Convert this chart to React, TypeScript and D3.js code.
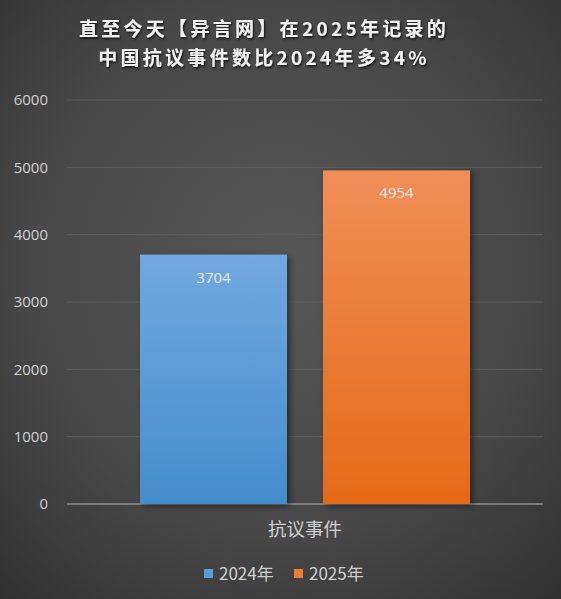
import React from "react";
import * as d3 from "d3";

const categories = ["抗议事件"];
const seriesNames = ["2024年", "2025年"];
const values2024 = [3704];
const values2025 = [4954];
const yTicks = [0, 1000, 2000, 3000, 4000, 5000, 6000];
const titleLines = ["直至今天【异言网】在2025年记录的", "中国抗议事件数比2024年多34%"];

const W = 561, H = 599;
const plot = { left: 67, right: 543, top: 100, bottom: 504 };

export default function App() {
  const y = d3.scaleLinear().domain([0, 6000]).range([plot.bottom, plot.top]);
  const x0 = d3.scaleBand().domain(categories).range([plot.left, plot.right]).paddingInner(0).paddingOuter(0);
  const bandCenter = (c: string) => (x0(c) as number) + x0.bandwidth() / 2;
  const barW = 147, gap = 36;
  const x1 = d3.scaleOrdinal<string, number>().domain(seriesNames).range([-gap / 2 - barW, gap / 2]);
  const series = [
    { name: seriesNames[0], values: values2024, grad: "gBlue", legend: "#5b9bd5" },
    { name: seriesNames[1], values: values2025, grad: "gOrange", legend: "#ed7d31" },
  ];
  const font = "'Noto Sans CJK SC', 'Open Sans', sans-serif";
  return (
    <svg width={W} height={H} style={{ display: "block", position: "absolute", left: 0, top: 0 }}>
      <defs>
        <radialGradient id="bg" cx="50%" cy="45%" r="75%">
          <stop offset="0%" stopColor="#575757" />
          <stop offset="60%" stopColor="#474747" />
          <stop offset="100%" stopColor="#303030" />
        </radialGradient>
        <linearGradient id="gBlue" x1="0" y1="0" x2="0" y2="1">
          <stop offset="0%" stopColor="#72a8df" />
          <stop offset="100%" stopColor="#458dcc" />
        </linearGradient>
        <linearGradient id="gOrange" x1="0" y1="0" x2="0" y2="1">
          <stop offset="0%" stopColor="#f08e58" />
          <stop offset="100%" stopColor="#e56a17" />
        </linearGradient>
        <filter id="shadow" x="-20%" y="-10%" width="140%" height="120%">
          <feDropShadow dx="3" dy="2" stdDeviation="3" floodColor="#000" floodOpacity="0.45" />
        </filter>
        <filter id="tshadow" x="-10%" y="-30%" width="120%" height="160%">
          <feDropShadow dx="1" dy="1.5" stdDeviation="1.2" floodColor="#000" floodOpacity="0.8" />
        </filter>
      </defs>
      <rect x={0} y={0} width={W} height={H} fill="url(#bg)" />
      {titleLines.map((t, i) => (
        <text key={i} x={264} y={36 + i * 29} textAnchor="middle" fill="#f2f2f2"
          fontFamily={font} fontWeight={700} fontSize={19} letterSpacing={3.3} filter="url(#tshadow)">{t}</text>
      ))}
      {yTicks.map((t) => (
        <g key={t}>
          <line x1={plot.left} x2={plot.right} y1={y(t)} y2={y(t)}
            stroke={t === 0 ? "#8c8c8c" : "#5e5e5e"} strokeWidth={t === 0 ? 1.5 : 1} />
          <text x={48} y={y(t)} dy="0.35em" textAnchor="end" fill="#d0d0d0"
            fontFamily="'Open Sans', 'DejaVu Sans', sans-serif" fontSize={15}>{t}</text>
        </g>
      ))}
      {categories.map((c, ci) => (
        <g key={c}>
          {series.map((s) => {
            const v = s.values[ci];
            const bx = bandCenter(c) + x1(s.name);
            return (
              <g key={s.name}>
                <rect x={bx} y={y(v)} width={barW} height={y(0) - y(v)} fill={`url(#${s.grad})`} filter="url(#shadow)" />
                <text x={bx + barW / 2} y={y(v) + 28} textAnchor="middle" fill="#e6e6e6"
                  fontFamily="'Open Sans', sans-serif" fontSize={15}>{v}</text>
              </g>
            );
          })}
          <text x={bandCenter(c)} y={536} textAnchor="middle" fill="#d0d0d0" fontFamily={font} fontSize={18.5}>{c}</text>
        </g>
      ))}
      {series.map((s, i) => {
        const lx = 204 + i * 90;
        return (
          <g key={s.name}>
            <rect x={lx} y={569} width={9} height={9} fill={s.legend} />
            <text x={lx + 15} y={574} dy="0.35em" fill="#d0d0d0" fontFamily={font} fontSize={17}>{s.name}</text>
          </g>
        );
      })}
    </svg>
  );
}
